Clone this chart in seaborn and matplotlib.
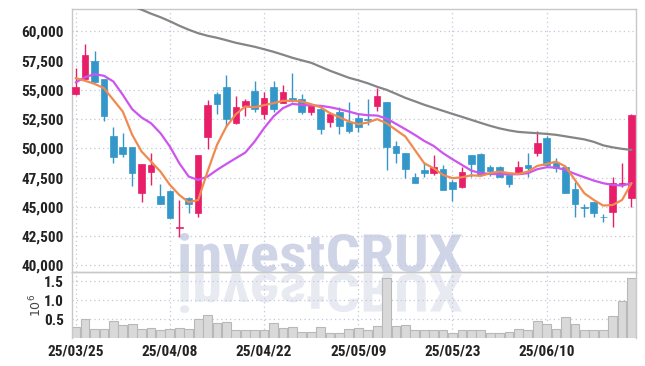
import numpy as np
import seaborn as sns
import matplotlib.pyplot as plt
from matplotlib.textpath import TextPath
from matplotlib.patches import PathPatch
from matplotlib.font_manager import FontProperties
from matplotlib.transforms import Affine2D

# daily candles, 25/03/25 .. 25/06/23 (60 trading days)
open_ = [54640, 55920, 57490, 55920, 51070, 50130, 50130, 46220, 48020, 45940,
         46360, 43150, 45740, 44450, 51010, 54670, 55260, 52130, 53640, 54920,
         52980, 55260, 53900, 54350, 54210, 53150, 53350, 52240, 53120, 52270,
         52610, 52460, 53640, 53980, 50210, 49590, 47590, 48160, 47930, 48250,
         47130, 46730, 49440, 49530, 48420, 48420, 47700, 47930, 48590, 49590,
         50900, 48730, 48390, 46510, 44940, 45420, 44170, 44590, 46960, 45740]
high = [56870, 58920, 58370, 55950, 51810, 51300, 50150, 48700, 49590, 46930,
        46400, 45590, 45880, 49450, 54150, 54780, 56290, 54440, 54210, 55780,
        54780, 55780, 55440, 56430, 54670, 53800, 53640, 53150, 53520, 53950,
        53010, 54210, 55150, 54000, 50590, 49600, 47880, 48870, 49440, 48590,
        47300, 48450, 49450, 49640, 48590, 48530, 47750, 48960, 49640, 51530,
        51070, 49160, 48400, 47160, 45220, 45450, 44390, 47590, 48790, 52920]
low = [54600, 55900, 55660, 52350, 48730, 49300, 46790, 45450, 46880, 45280,
       44080, 42450, 44450, 44170, 49930, 52920, 51870, 52100, 52810, 53100,
       52500, 53120, 53890, 54000, 52920, 52840, 51210, 51810, 51210, 51300,
       51440, 52010, 53210, 48160, 48730, 47450, 47020, 47530, 47730, 46400,
       45540, 46650, 47590, 47700, 47650, 47580, 46730, 47900, 47590, 49360,
       48450, 47960, 46200, 44170, 44110, 44110, 43740, 43250, 46730, 44960]
close = [55290, 58000, 55660, 52730, 49300, 49560, 47930, 48670, 48590, 45280,
         44080, 43250, 45250, 49440, 53720, 53780, 52500, 53550, 54070, 53380,
         54290, 53410, 54780, 54070, 53150, 53780, 51700, 52920, 51930, 51530,
         51810, 52420, 54470, 50160, 49640, 48220, 47080, 47930, 48450, 46450,
         46530, 47990, 48670, 47730, 48070, 47590, 46960, 48450, 48360, 50440,
         48590, 48300, 46220, 45280, 44880, 44450, 44100, 47020, 47010, 52870]
# volume in millions of shares
volume = [0.29, 0.51, 0.25, 0.25, 0.45, 0.35, 0.38, 0.25, 0.27, 0.22,
          0.25, 0.27, 0.25, 0.51, 0.61, 0.41, 0.43, 0.22, 0.22, 0.20,
          0.22, 0.41, 0.27, 0.30, 0.17, 0.17, 0.29, 0.12, 0.14, 0.25,
          0.27, 0.22, 0.32, 1.60, 0.32, 0.35, 0.20, 0.20, 0.20, 0.22,
          0.14, 0.20, 0.20, 0.22, 0.12, 0.14, 0.17, 0.25, 0.22, 0.45,
          0.38, 0.25, 0.56, 0.38, 0.20, 0.20, 0.22, 0.58, 0.97, 1.58]
# moving averages as drawn (short / mid / long)
ma_short = [56010, 55780, 55520, 55150, 54150, 53150, 51160, 49730, 48870, 48020,
            46880, 46020, 45390, 45590, 48020, 50300, 51870, 52920, 53580, 53520,
            53700, 53870, 54070, 54070, 54010, 53780, 53520, 53010, 52670, 52300,
            52070, 52210, 52500, 52150, 51580, 51010, 49870, 48730, 48300, 47730,
            47450, 47530, 47700, 47650, 47880, 48020, 47880, 47820, 48020, 48500,
            48670, 48870, 48450, 47300, 46160, 45590, 45110, 45160, 45590, 47020]
ma_mid = [55640, 56090, 56350, 56210, 55720, 54580, 53350, 52640, 52150, 51300,
          50160, 48730, 47590, 47300, 47590, 48160, 48670, 49160, 49640, 50590,
          51730, 52730, 53440, 53810, 53720, 53670, 53640, 53520, 53350, 53150,
          52930, 52840, 52810, 52550, 52100, 51640, 51160, 50640, 50210, 49590,
          49070, 48590, 48100, 47880, 47820, 47790, 47790, 47790, 47880, 48220,
          48390, 48360, 48160, 47820, 47530, 47250, 47020, 46880, 46820, 47020]
ma_long = [64170, 63830, 63480, 63140, 62840, 62500, 62160, 61860, 61520, 61220,
           60870, 60490, 60150, 59850, 59630, 59460, 59250, 59030, 58860, 58690,
           58480, 58260, 58010, 57750, 57530, 57320, 56980, 56640, 56340, 56040,
           55820, 55570, 55270, 55010, 54670, 54320, 54030, 53730, 53470, 53210,
           52950, 52700, 52440, 52180, 51930, 51710, 51540, 51410, 51350, 51300,
           51240, 51160, 51030, 50900, 50770, 50560, 50260, 50090, 49960, 49870]
tick_pos = [0, 10, 20, 30, 40, 50]
tick_labels = ['25/03/25', '25/04/08', '25/04/22', '25/05/09', '25/05/23', '25/06/10']
price_ticks = list(range(40000, 60001, 2500))
vol_ticks = [0.5, 1.0, 1.5]

sns.set_style('white')
plt.rcParams['font.family'] = ['Roboto Condensed', 'Liberation Sans', 'DejaVu Sans']

UP = '#e81e69'
DOWN = '#3398c9'
GRID = '#c3c7dc'
SPINE = '#c8c8c8'
TXT = '#222222'

W, H = 645, 366
fig = plt.figure(figsize=(W / 100, H / 100), dpi=100)
ax = fig.add_axes([72 / W, 1 - 272 / H, 564 / W, 263 / H])
ax2 = fig.add_axes([72 / W, 1 - 338 / H, 564 / W, 66 / H])
for a in (ax, ax2):
    a.set_facecolor('none')

# watermark with its reflection
fp = FontProperties(family=['Roboto Condensed', 'DejaVu Sans'], weight='bold')
tp = TextPath((0, 0), 'investCRUX', size=100, prop=fp)
ext = tp.get_extents()
sx = (462 - 180) / ext.width
sy = 39 / ext.y1
base = H - 272
wm = Affine2D().translate(-ext.x0, 0).scale(sx, sy).translate(180, base)
rf = Affine2D().translate(-ext.x0, 0).scale(sx, -sy).translate(180, base - 2)
fig.add_artist(PathPatch(tp, transform=wm, facecolor='#cfd5e7', edgecolor='none', zorder=-1))
fig.add_artist(PathPatch(tp, transform=rf, facecolor='#e8eaf2', edgecolor='none', zorder=-1))

# candles
x = np.arange(len(close))
o = np.array(open_)
c = np.array(close)
cols = [UP if cc >= oo else DOWN for oo, cc in zip(o, c)]
ax.vlines(x, low, high, colors=cols, lw=1.0, zorder=2)
body_low = np.minimum(o, c)
body_h = np.maximum(np.abs(c - o), 70)
ax.bar(x, body_h, bottom=body_low, width=0.7, color=cols, edgecolor=cols, lw=0.5, zorder=3)

sns.lineplot(x=x, y=ma_long, ax=ax, color='#858585', lw=1.6, zorder=4)
sns.lineplot(x=x, y=ma_mid, ax=ax, color='#cc55ee', lw=1.6, zorder=4)
sns.lineplot(x=x, y=ma_short, ax=ax, color='#f08a4f', lw=1.6, zorder=5)

ax.set_ylim(39430, 61920)
ax.set_yticks(price_ticks)
ax.set_yticklabels([f'{v:,}' for v in price_ticks])

# volume
sns.barplot(x=x, y=volume, ax=ax2, color='#d9d9d9', edgecolor='#b8b8b8',
            linewidth=0.8, width=0.93, saturation=1, zorder=2)
ax2.set_ylim(0, 1.75)
ax2.set_yticks(vol_ticks)
ax2.set_yticklabels(['0.5', '1.0', '1.5'])
ax2.text(-0.064, 0.5, '$10^6$', transform=ax2.transAxes, rotation=90,
         ha='center', va='center', fontsize=9, color='#444444', family='DejaVu Sans')

for a in (ax, ax2):
    a.set_xlim(-0.39, 59.48)
    a.set_xticks(tick_pos)
    a.grid(True, color=GRID, ls=(0, (1, 2.5)), lw=0.9, zorder=0)
    a.set_axisbelow(True)
    a.tick_params(length=0, pad=6, labelsize=11, labelcolor=TXT)
    for lbl in a.get_xticklabels() + a.get_yticklabels():
        lbl.set_fontweight('bold')
    a.set_xlabel('')
    a.set_ylabel('')
    for s in a.spines.values():
        s.set_color(SPINE)
        s.set_linewidth(1.0)
ax.set_xticklabels([])
ax2.set_xticklabels(tick_labels, fontweight='bold')
ax2.tick_params(axis='x', pad=5)
ax2.spines['bottom'].set_visible(False)

fig.savefig('out.png', dpi=100)
